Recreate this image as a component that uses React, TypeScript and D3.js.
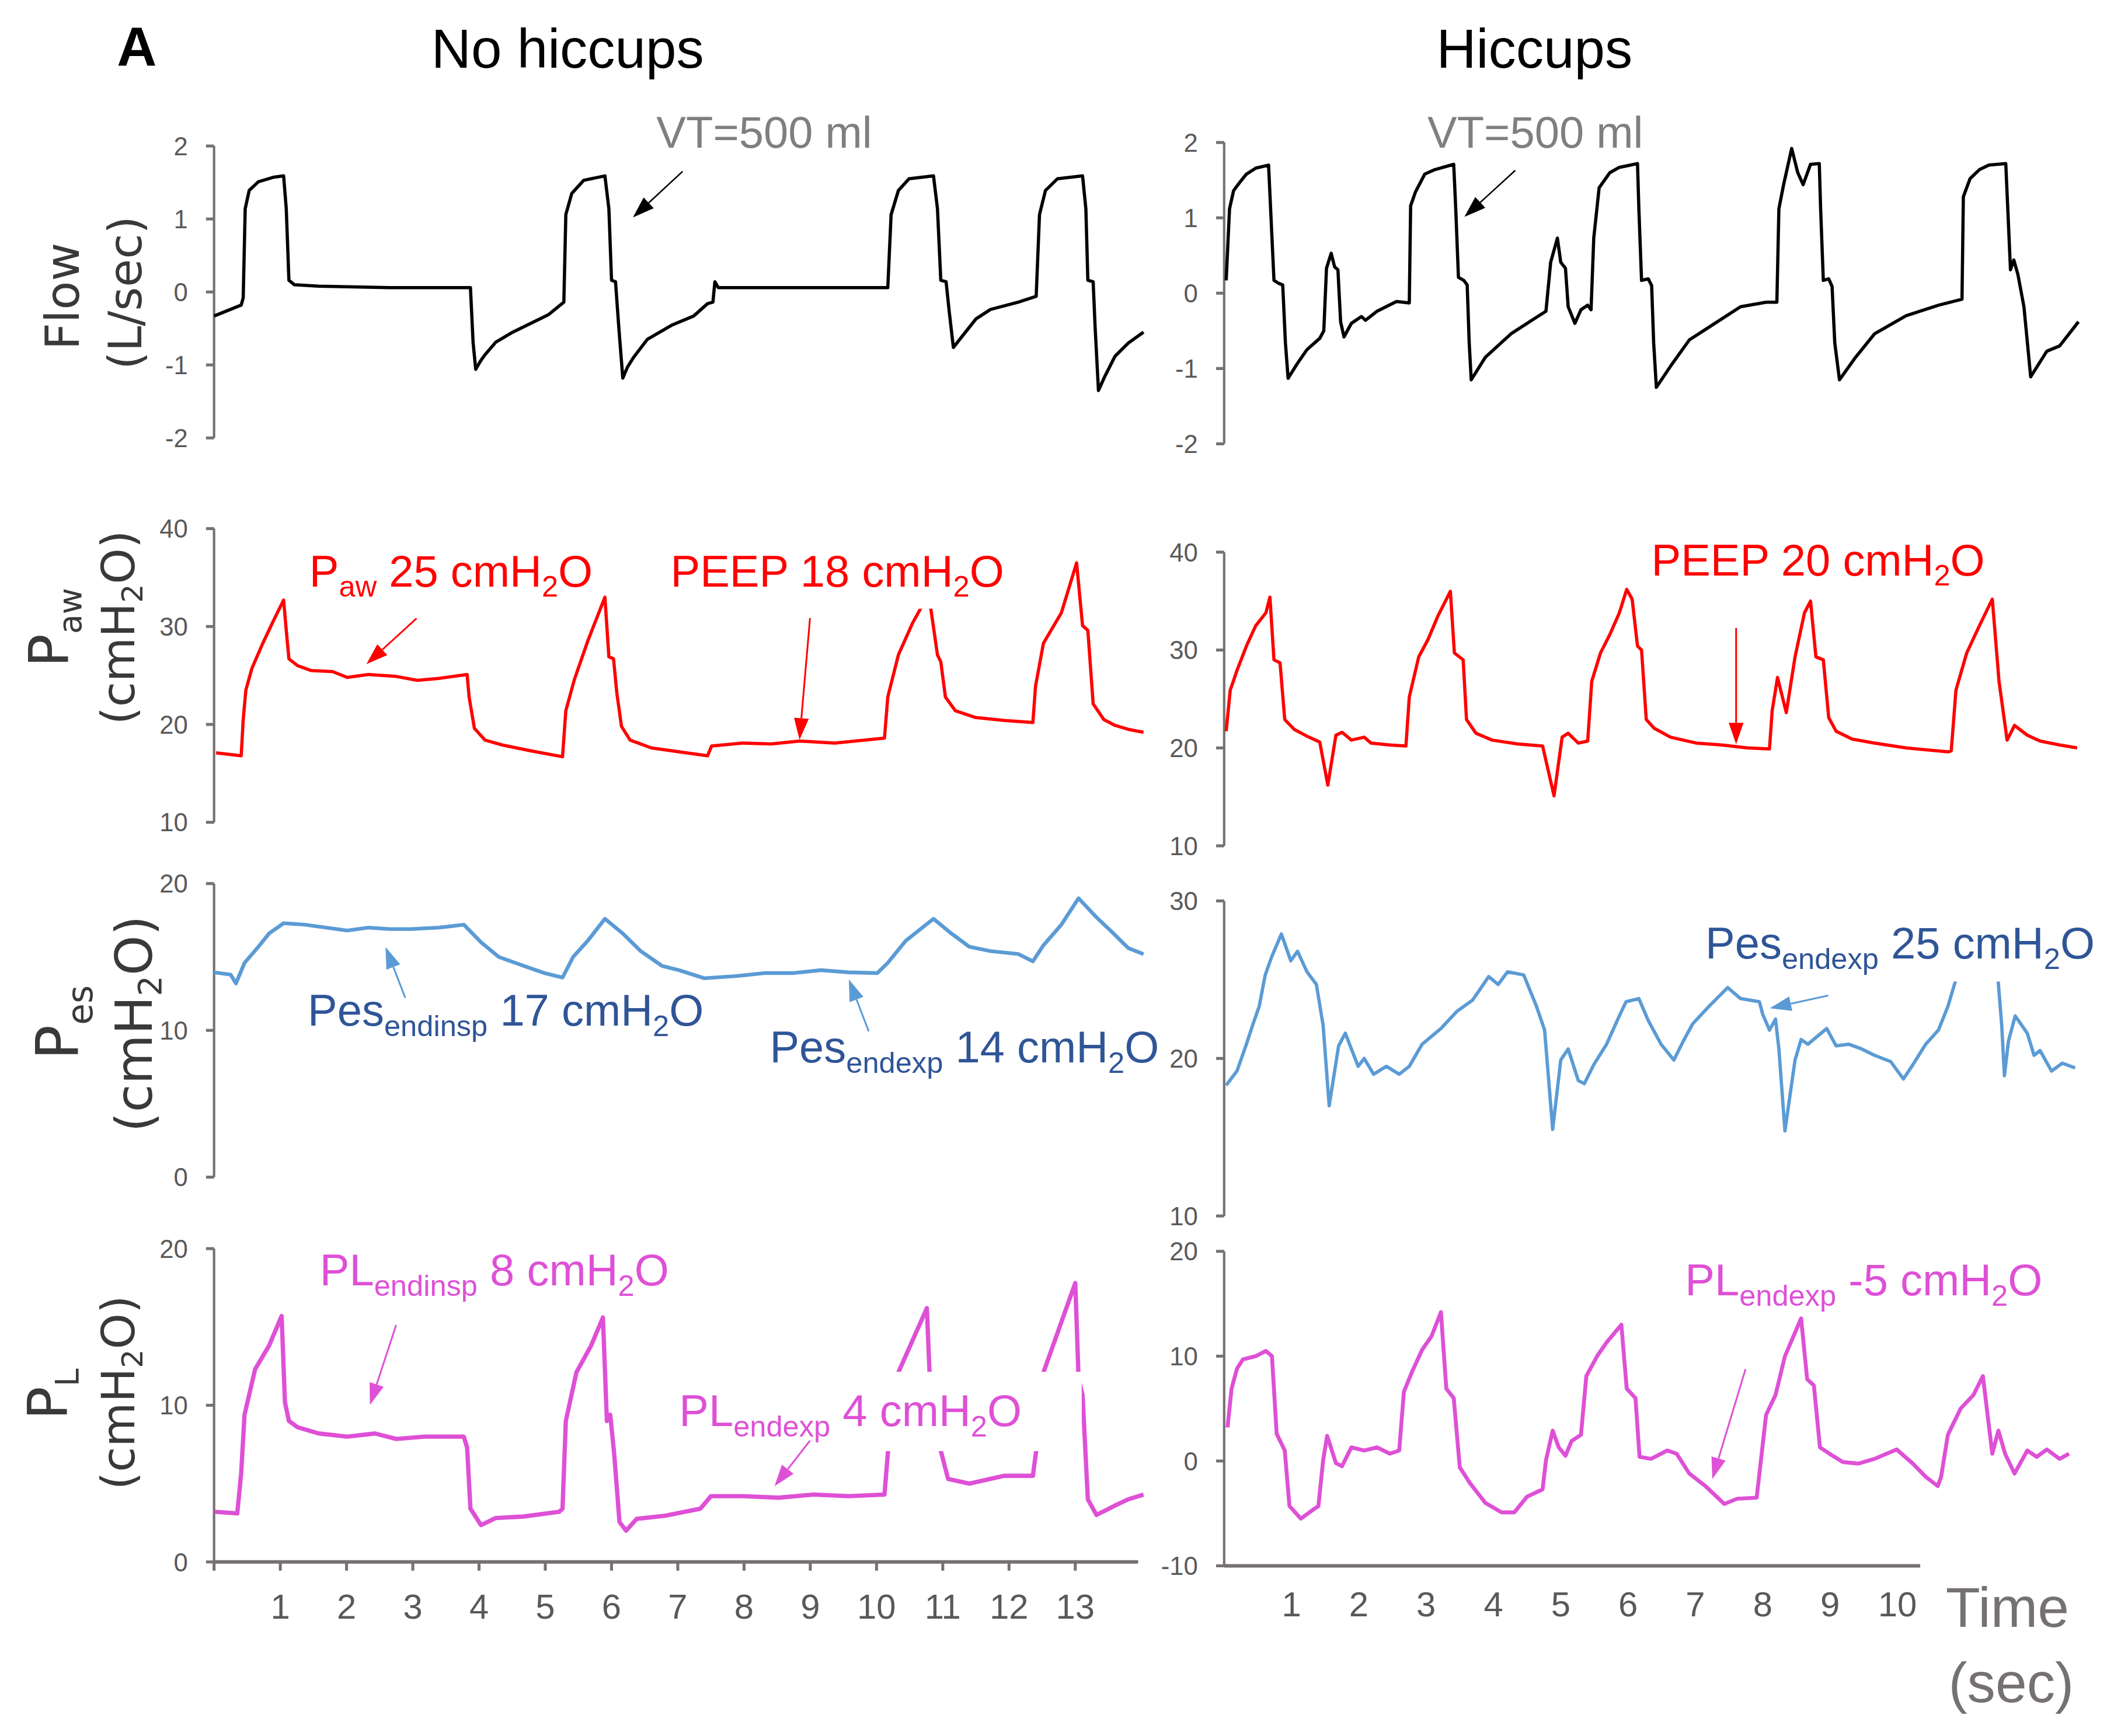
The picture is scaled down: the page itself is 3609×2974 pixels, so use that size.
import React from "react";
import * as d3 from "d3";

type Pt = [number, number];
type Part = [string, boolean];

// time (s), value
const flowNoHiccups: Pt[] = [
  [0, -0.33], [0.41, -0.18], [0.44, -0.08], [0.47, 1.14], [0.53, 1.39], [0.67, 1.51], [0.89, 1.57], [1.05, 1.59],
  [1.09, 1.14], [1.13, 0.16], [1.21, 0.1], [1.58, 0.08], [2.65, 0.06], [3.82, 0.06], [3.87, 0.06], [3.91, -0.69],
  [3.95, -1.06], [4.02, -0.95], [4.09, -0.86], [4.25, -0.69], [4.51, -0.55], [4.78, -0.43], [5.05, -0.31], [5.28, -0.14],
  [5.31, 1.06], [5.4, 1.35], [5.58, 1.53], [5.9, 1.59], [5.96, 1.14], [6.0, 0.16], [6.06, 0.14], [6.11, -0.49],
  [6.17, -1.18], [6.24, -1.03], [6.33, -0.9], [6.54, -0.65], [6.92, -0.45], [7.24, -0.33], [7.45, -0.16], [7.53, -0.14],
  [7.56, 0.14], [7.61, 0.06], [8.52, 0.06], [10.17, 0.06], [10.22, 1.06], [10.33, 1.39], [10.49, 1.55],
  [10.86, 1.59], [10.92, 1.14], [10.97, 0.16], [11.05, 0.14], [11.1, -0.29], [11.16, -0.76], [11.29, -0.61],
  [11.5, -0.37], [11.72, -0.24], [12.14, -0.14], [12.41, -0.06], [12.46, 1.06], [12.55, 1.39], [12.73, 1.55],
  [13.11, 1.59], [13.16, 1.14], [13.19, 0.16], [13.27, 0.14], [13.3, -0.49], [13.35, -1.35], [13.45, -1.15],
  [13.6, -0.88], [13.8, -0.7], [14.03, -0.55],
];

const flowHiccups: Pt[] = [
  [0.03, 0.17], [0.08, 1.12], [0.14, 1.36], [0.24, 1.48], [0.33, 1.58], [0.47, 1.66], [0.66, 1.7], [0.69, 1.12],
  [0.74, 0.17], [0.81, 0.13], [0.87, 0.11], [0.91, -0.66], [0.95, -1.13], [1.09, -0.93], [1.23, -0.75],
  [1.42, -0.6], [1.48, -0.5], [1.52, 0.33], [1.59, 0.53], [1.64, 0.35], [1.69, 0.31], [1.73, -0.38],
  [1.78, -0.58], [1.89, -0.4], [2.04, -0.31], [2.1, -0.36], [2.27, -0.24], [2.56, -0.11], [2.75, -0.13],
  [2.77, 1.16], [2.84, 1.34], [2.98, 1.58], [3.13, 1.64], [3.41, 1.71], [3.44, 1.12], [3.48, 0.21], [3.56, 0.17],
  [3.61, 0.11], [3.64, -0.66], [3.67, -1.15], [3.88, -0.85], [4.26, -0.54], [4.64, -0.32], [4.78, -0.24],
  [4.85, 0.41], [4.95, 0.73], [5.0, 0.41], [5.07, 0.33], [5.11, -0.18], [5.21, -0.4], [5.3, -0.22], [5.4, -0.16],
  [5.45, -0.22], [5.49, 0.73], [5.57, 1.4], [5.73, 1.6], [5.87, 1.67], [6.14, 1.72], [6.16, 1.12], [6.2, 0.17],
  [6.3, 0.19], [6.35, 0.1], [6.38, -0.66], [6.42, -1.25], [6.63, -0.97], [6.91, -0.62], [7.29, -0.4],
  [7.67, -0.18], [8.05, -0.12], [8.21, -0.12], [8.24, 1.12], [8.31, 1.44], [8.43, 1.92], [8.52, 1.6],
  [8.6, 1.44], [8.71, 1.71], [8.84, 1.72], [8.86, 1.12], [8.9, 0.17], [8.98, 0.19], [9.03, 0.09], [9.07, -0.66],
  [9.14, -1.15], [9.38, -0.85], [9.66, -0.54], [10.13, -0.3], [10.61, -0.16], [10.96, -0.08], [10.98, 1.28],
  [11.08, 1.52], [11.22, 1.64], [11.36, 1.7], [11.61, 1.72], [11.64, 1.12], [11.68, 0.31], [11.73, 0.44],
  [11.79, 0.25], [11.88, -0.18], [11.98, -1.11], [12.22, -0.77], [12.41, -0.7], [12.69, -0.38],
];

const pawNoHiccups: Pt[] = [
  [0.03, 17.1], [0.41, 16.8], [0.44, 20.5], [0.48, 23.5], [0.57, 25.7], [0.73, 28.2], [0.89, 30.5], [1.05, 32.7],
  [1.09, 29.6], [1.13, 26.7], [1.26, 26.0], [1.47, 25.5], [1.79, 25.4], [2.01, 24.8], [2.33, 25.1], [2.75, 24.9],
  [3.07, 24.5], [3.39, 24.7], [3.82, 25.1], [3.85, 22.8], [3.93, 19.6], [4.09, 18.4], [4.35, 17.9], [4.78, 17.3],
  [5.26, 16.7], [5.31, 21.4], [5.44, 24.6], [5.64, 28.5], [5.9, 33.0], [5.96, 26.9], [6.03, 26.7], [6.08, 23.2],
  [6.15, 19.8], [6.28, 18.4], [6.6, 17.6], [7.02, 17.2], [7.45, 16.8], [7.51, 17.8], [7.98, 18.1], [8.41, 18.0],
  [8.84, 18.3], [9.37, 18.1], [10.12, 18.6], [10.17, 22.8], [10.33, 27.1], [10.54, 30.3], [10.76, 33.0],
  [10.82, 31.8], [10.92, 27.1], [10.97, 26.4], [11.04, 22.8], [11.19, 21.4], [11.5, 20.7], [11.93, 20.4],
  [12.36, 20.2], [12.4, 23.9], [12.52, 28.3], [12.79, 31.4], [13.02, 36.5], [13.11, 30.1], [13.19, 29.6],
  [13.27, 22.1], [13.43, 20.5], [13.6, 19.9], [13.8, 19.5], [14.03, 19.2],
];

const pawHiccups: Pt[] = [
  [0.03, 21.7], [0.09, 25.9], [0.19, 27.9], [0.33, 30.4], [0.47, 32.5], [0.62, 33.8], [0.68, 35.4], [0.74, 29.0],
  [0.83, 28.7], [0.9, 22.9], [1.04, 21.9], [1.23, 21.2], [1.42, 20.6], [1.54, 16.2], [1.66, 21.3], [1.75, 21.6],
  [1.89, 20.8], [2.08, 21.1], [2.18, 20.5], [2.46, 20.3], [2.7, 20.2], [2.75, 25.2], [2.89, 29.3], [3.03, 31.1],
  [3.17, 33.4], [3.36, 36.0], [3.42, 29.7], [3.55, 29.0], [3.6, 22.9], [3.74, 21.5], [3.98, 20.8], [4.36, 20.4],
  [4.73, 20.2], [4.9, 15.1], [5.02, 21.1], [5.11, 21.5], [5.26, 20.5], [5.4, 20.7], [5.46, 26.8], [5.59, 29.7],
  [5.73, 31.6], [5.87, 33.8], [5.98, 36.2], [6.06, 35.2], [6.14, 30.4], [6.2, 30.0], [6.27, 22.9], [6.39, 22.0],
  [6.63, 21.1], [7.01, 20.5], [7.39, 20.3], [7.77, 20.0], [8.1, 19.9], [8.14, 23.8], [8.22, 27.2], [8.35, 23.6],
  [8.48, 29.3], [8.62, 33.8], [8.71, 35.0], [8.79, 29.3], [8.9, 29.0], [8.98, 23.1], [9.09, 21.7], [9.33, 20.9],
  [9.66, 20.5], [10.13, 20.0], [10.75, 19.6], [10.8, 19.7], [10.87, 25.9], [11.03, 29.7], [11.22, 32.5],
  [11.41, 35.2], [11.51, 26.8], [11.63, 20.8], [11.74, 22.3], [11.93, 21.3], [12.12, 20.7], [12.41, 20.3],
  [12.67, 20.0],
];

const pesNoHiccups: Pt[] = [
  [0, 13.95], [0.25, 13.8], [0.33, 13.2], [0.46, 14.6], [0.67, 15.7], [0.83, 16.6], [1.05, 17.3], [1.37, 17.2],
  [1.69, 17.0], [2.01, 16.8], [2.33, 17.0], [2.65, 16.9], [2.97, 16.9], [3.39, 17.0], [3.77, 17.2], [4.03, 16.0],
  [4.3, 15.0], [4.67, 14.4], [4.99, 13.9], [5.26, 13.6], [5.42, 15.0], [5.64, 16.1], [5.9, 17.6], [6.17, 16.6],
  [6.44, 15.4], [6.76, 14.4], [7.02, 14.1], [7.4, 13.55], [7.88, 13.7], [8.3, 13.9], [8.73, 13.9], [9.16, 14.1],
  [9.58, 13.95], [10.01, 13.9], [10.17, 14.6], [10.44, 16.1], [10.86, 17.6], [11.13, 16.6], [11.4, 15.7],
  [11.72, 15.4], [12.14, 15.2], [12.36, 14.7], [12.52, 15.8], [12.79, 17.2], [13.05, 19.0], [13.32, 17.7],
  [13.6, 16.5], [13.8, 15.6], [14.03, 15.2],
];

const pesHiccups: Pt[] = [
  [0.03, 18.3], [0.19, 19.2], [0.33, 20.9], [0.43, 22.2], [0.52, 23.3], [0.61, 25.3], [0.71, 26.5], [0.85, 27.9],
  [0.99, 26.2], [1.09, 26.8], [1.23, 25.5], [1.37, 24.7], [1.47, 22.1], [1.56, 17.0], [1.7, 20.8], [1.8, 21.6],
  [1.89, 20.6], [1.99, 19.5], [2.08, 20.0], [2.22, 19.0], [2.41, 19.5], [2.6, 19.0], [2.75, 19.5], [2.94, 20.9],
  [3.22, 21.9], [3.46, 23.0], [3.69, 23.7], [3.93, 25.2], [4.07, 24.7], [4.21, 25.5], [4.45, 25.3], [4.64, 23.3],
  [4.76, 21.8], [4.88, 15.5], [5.0, 19.9], [5.11, 20.6], [5.26, 18.6], [5.35, 18.4], [5.49, 19.6], [5.68, 20.9],
  [5.87, 22.7], [5.97, 23.6], [6.16, 23.8], [6.3, 22.4], [6.49, 20.9], [6.68, 19.9], [6.82, 21.1], [6.96, 22.2],
  [7.2, 23.3], [7.48, 24.5], [7.67, 23.8], [7.95, 23.6], [8.0, 22.8], [8.1, 21.8], [8.19, 22.5], [8.24, 20.6],
  [8.33, 15.4], [8.48, 19.9], [8.57, 21.2], [8.67, 20.9], [8.81, 21.4], [8.95, 21.9], [9.09, 20.8], [9.28, 20.9],
  [9.47, 20.6], [9.66, 20.2], [9.9, 19.8], [10.09, 18.7], [10.23, 19.6], [10.42, 20.9], [10.61, 21.8],
  [10.75, 23.3], [10.89, 25.3], [11.17, 27.9], [11.49, 25.3], [11.55, 22.1], [11.59, 18.9], [11.65, 21.1],
  [11.75, 22.7], [11.93, 21.6], [12.03, 20.2], [12.12, 20.5], [12.29, 19.2], [12.45, 19.7], [12.64, 19.4],
];

const plNoHiccups: Pt[] = [
  [0.01, 3.2], [0.35, 3.1], [0.41, 5.7], [0.46, 9.4], [0.62, 12.3], [0.83, 13.8], [1.02, 15.7], [1.07, 10.2],
  [1.13, 9.0], [1.26, 8.6], [1.58, 8.2], [2.01, 8.0], [2.43, 8.2], [2.75, 7.85], [3.18, 8.0], [3.77, 8.0],
  [3.82, 7.3], [3.87, 3.4], [4.03, 2.35], [4.25, 2.8], [4.67, 2.9], [5.21, 3.2], [5.26, 3.4], [5.31, 9.0],
  [5.47, 12.1], [5.69, 13.8], [5.87, 15.6], [5.93, 9.0], [5.98, 9.4], [6.04, 6.9], [6.12, 2.55], [6.22, 2.0],
  [6.38, 2.75], [6.81, 2.95], [7.34, 3.4], [7.5, 4.2], [7.98, 4.2], [8.52, 4.1], [9.05, 4.3], [9.58, 4.2],
  [10.12, 4.3], [10.17, 6.9], [10.33, 12.1], [10.76, 16.2], [10.81, 11.1], [10.97, 7.1], [11.08, 5.3],
  [11.40, 5.0], [11.93, 5.5], [12.36, 5.5], [12.41, 7.1], [12.52, 12.1], [13.0, 17.8], [13.05, 11.7],
  [13.11, 10.65], [13.19, 4.0], [13.32, 3.0], [13.6, 3.6], [13.8, 4.0], [14.03, 4.3],
];

const plHiccups: Pt[] = [
  [0.05, 3.2], [0.11, 6.9], [0.19, 8.8], [0.28, 9.7], [0.47, 10.0], [0.62, 10.5], [0.71, 10.0], [0.78, 2.6],
  [0.9, 1.0], [0.97, -4.3], [1.14, -5.5], [1.33, -4.6], [1.4, -4.3], [1.47, 0.06], [1.53, 2.4], [1.66, -0.2],
  [1.75, -0.5], [1.89, 1.3], [2.08, 1.0], [2.27, 1.3], [2.46, 0.7], [2.6, 1.0], [2.67, 6.6], [2.79, 8.5],
  [2.94, 10.6], [3.08, 11.9], [3.22, 14.2], [3.3, 6.9], [3.41, 6.0], [3.5, -0.6], [3.65, -2.1], [3.88, -4.0],
  [4.12, -4.9], [4.31, -4.9], [4.5, -3.4], [4.73, -2.7], [4.78, 0.06], [4.88, 2.9], [4.97, 1.3], [5.07, 0.5],
  [5.16, 1.9], [5.3, 2.5], [5.38, 8.1], [5.54, 10.0], [5.68, 11.3], [5.9, 13.0], [5.98, 6.9], [6.11, 6.0],
  [6.17, 0.4], [6.34, 0.2], [6.58, 1.0], [6.72, 0.7], [6.91, -1.2], [7.15, -2.4], [7.43, -4.1], [7.62, -3.6],
  [7.91, -3.5], [8.05, 4.4], [8.19, 6.3], [8.33, 10.0], [8.57, 13.6], [8.66, 7.8], [8.76, 7.2], [8.85, 1.3],
  [8.99, 0.7], [9.19, -0.1], [9.42, -0.25], [9.66, 0.2], [9.99, 1.1], [10.23, -0.25], [10.42, -1.5],
  [10.6, -2.4], [10.65, -1.5], [10.75, 2.5], [10.94, 5.0], [11.13, 6.3], [11.27, 8.1], [11.34, 4.4],
  [11.41, 0.7], [11.5, 2.9], [11.6, 0.7], [11.74, -1.2], [11.93, 1.0], [12.07, 0.4], [12.22, 1.1], [12.41, 0.2],
  [12.55, 0.7],
];

const xTicksLeft = [0, 1, 2, 3, 4, 5, 6, 7, 8, 9, 10, 11, 12, 13];
const xLabelsLeft = [1, 2, 3, 4, 5, 6, 7, 8, 9, 10, 11, 12, 13];
const xLabelsRight = [1, 2, 3, 4, 5, 6, 7, 8, 9, 10];
const flowTicks = [-2, -1, 0, 1, 2];
const pawTicks = [10, 20, 30, 40];
const pesTicksLeft = [0, 10, 20];
const pesTicksRight = [10, 20, 30];
const plTicksLeft = [0, 10, 20];
const plTicksRight = [-10, 0, 10, 20];

const AXIS = "#767171";
const TICK_TXT = "#595959";
const SANS = "'Liberation Sans', Arial, sans-serif";
const WIDE = "'DejaVu Sans', Verdana, sans-serif";
const RED = "#ff0000";
const BLUE = "#5b9bd5";
const NAVY = "#2f5597";
const MAG = "#de50d6";

const xL = d3.scaleLinear().domain([0, 14]).range([159.3, 849.5]);
const xR = d3.scaleLinear().domain([0, 10]).range([911, 1412]);

const yFlowL = d3.scaleLinear().domain([-2, 2]).range([325.9, 108.6]);
const yFlowR = d3.scaleLinear().domain([-2, 2]).range([330.3, 106]);
const yPawL = d3.scaleLinear().domain([10, 40]).range([612, 393.4]);
const yPawR = d3.scaleLinear().domain([10, 40]).range([629.5, 410.9]);
const yPesL = d3.scaleLinear().domain([0, 20]).range([876.1, 657.6]);
const yPesR = d3.scaleLinear().domain([10, 30]).range([905, 670.5]);
const yPlL = d3.scaleLinear().domain([0, 20]).range([1162.5, 929.3]);
const yPlR = d3.scaleLinear().domain([-10, 20]).range([1165.4, 931.3]);

function Trace({ data, x, y, color, width }: any) {
  const line = d3.line<Pt>().x(d => x(d[0])).y(d => y(d[1]));
  return <path d={line(data) || ""} fill="none" stroke={color} strokeWidth={width} strokeLinejoin="round" />;
}

function YAxis({ x, y, ticks }: any) {
  const [d0, d1] = y.domain();
  return (
    <g>
      <line x1={x} x2={x} y1={y(d1)} y2={y(d0)} stroke={AXIS} strokeWidth={1.8} />
      {ticks.map((t: number) => (
        <g key={t}>
          <line x1={x - 6} x2={x} y1={y(t)} y2={y(t)} stroke={AXIS} strokeWidth={2.2} />
          <text x={x - 19.5} y={y(t)} dy="0.36em" textAnchor="end" fontSize={19} fill={TICK_TXT} fontFamily={SANS}>
            {t}
          </text>
        </g>
      ))}
    </g>
  );
}

function Rich({ x, y, size, subSize, shift, parts, fill, anchor = "start", family = SANS }: any) {
  let cur = 0;
  return (
    <text x={x} y={y} fontSize={size} fill={fill} fontFamily={family} textAnchor={anchor} style={{ whiteSpace: "pre" }}>
      {parts.map(([t, sub]: Part, i: number) => {
        const target = sub ? shift : 0;
        const dy = target - cur;
        cur = target;
        return (
          <tspan key={i} dy={dy} fontSize={sub ? subSize : size}>
            {t}
          </tspan>
        );
      })}
    </text>
  );
}

function VTitle({ x, cy, size, subSize, shift, parts }: any) {
  return (
    <g transform={`translate(${x},${cy}) rotate(-90)`}>
      <Rich x={0} y={0} size={size} subSize={subSize} shift={shift} parts={parts} fill="#3b3838" anchor="middle" family={WIDE} />
    </g>
  );
}

function Arrow({ x1, y1, x2, y2, color, w = 1.3, head = 16, hw = 5.5 }: any) {
  const dx = x2 - x1;
  const dy = y2 - y1;
  const len = Math.hypot(dx, dy);
  const ux = dx / len;
  const uy = dy / len;
  const bx = x2 - ux * head;
  const by = y2 - uy * head;
  const px = -uy;
  const py = ux;
  return (
    <g>
      <line x1={x1} y1={y1} x2={bx} y2={by} stroke={color} strokeWidth={w} />
      <polygon points={`${x2},${y2} ${bx + px * hw},${by + py * hw} ${bx - px * hw},${by - py * hw}`} fill={color} />
    </g>
  );
}

const cmH2O = (pre: string): Part[] => [[pre + " cmH", false], ["2", true], ["O", false]];

export default function App() {
  return (
    <svg
      width={3609}
      height={2974}
      viewBox="0 0 1568 1292"
      style={{ position: "absolute", left: 0, top: 0, background: "#fff" }}
    >
      <rect x={0} y={0} width={1568} height={1292} fill="#fff" />

      {/* titles */}
      <text x={87} y={49.2} fontSize={41} fontWeight="bold" fontFamily={SANS} fill="#000">A</text>
      <text x={321} y={50.5} fontSize={41} fontFamily={SANS} fill="#000">No hiccups</text>
      <text x={1069} y={50.5} fontSize={41} fontFamily={SANS} fill="#000">Hiccups</text>

      {/* y titles */}
      <VTitle x={58.7} cy={220.5} size={35} parts={[["Flow", false]]} />
      <VTitle x={105} cy={217.8} size={34} parts={[["(L/sec)", false]]} />
      <VTitle x={51} cy={467} size={41} subSize={24} shift={9.5} parts={[["P", false], ["aw", true]]} />
      <VTitle x={100} cy={467} size={34} subSize={22} shift={6} parts={[["(cmH", false], ["2", true], ["O)", false]]} />
      <VTitle x={58} cy={761} size={43} subSize={26} shift={10.5} parts={[["P", false], ["es", true]]} />
      <VTitle x={113} cy={762} size={38} subSize={24} shift={7} parts={[["(cmH", false], ["2", true], ["O)", false]]} />
      <VTitle x={50} cy={1037.6} size={41} subSize={24} shift={8} parts={[["P", false], ["L", true]]} />
      <VTitle x={100} cy={1036.5} size={34} subSize={22} shift={6} parts={[["(cmH", false], ["2", true], ["O)", false]]} />

      {/* axes */}
      <YAxis x={xL(0)} y={yFlowL} ticks={flowTicks} />
      <YAxis x={xR(0)} y={yFlowR} ticks={flowTicks} />
      <YAxis x={xL(0)} y={yPawL} ticks={pawTicks} />
      <YAxis x={xR(0)} y={yPawR} ticks={pawTicks} />
      <YAxis x={xL(0)} y={yPesL} ticks={pesTicksLeft} />
      <YAxis x={xR(0)} y={yPesR} ticks={pesTicksRight} />
      <YAxis x={xL(0)} y={yPlL} ticks={plTicksLeft} />
      <YAxis x={xR(0)} y={yPlR} ticks={plTicksRight} />

      <line x1={xL(0)} x2={847} y1={yPlL(0)} y2={yPlL(0)} stroke={AXIS} strokeWidth={2.6} />
      {xTicksLeft.map(t => (
        <line key={t} x1={xL(t)} x2={xL(t)} y1={yPlL(0)} y2={yPlL(0) + 6.5} stroke={AXIS} strokeWidth={2.2} />
      ))}
      {xLabelsLeft.map(t => (
        <text key={t} x={xL(t)} y={1204.6} textAnchor="middle" fontSize={26} fill={TICK_TXT} fontFamily={SANS}>{t}</text>
      ))}
      <line x1={xR(0)} x2={1429} y1={yPlR(-10)} y2={yPlR(-10)} stroke={AXIS} strokeWidth={2.6} />
      {xLabelsRight.map(t => (
        <text key={t} x={xR(t)} y={1203} textAnchor="middle" fontSize={26} fill={TICK_TXT} fontFamily={SANS}>{t}</text>
      ))}
      <text x={1448} y={1211} fontSize={42} fill={AXIS} fontFamily={SANS}>Time</text>
      <text x={1450} y={1267} fontSize={42} fill={AXIS} fontFamily={SANS}>(sec)</text>

      {/* traces */}
      <Trace data={flowNoHiccups} x={xL} y={yFlowL} color="#000" width={2.4} />
      <Trace data={flowHiccups} x={xR} y={yFlowR} color="#000" width={2.4} />
      <Trace data={pawNoHiccups} x={xL} y={yPawL} color={RED} width={2.4} />
      <Trace data={pawHiccups} x={xR} y={yPawR} color={RED} width={2.4} />
      <Trace data={pesNoHiccups} x={xL} y={yPesL} color={BLUE} width={2.8} />
      <Trace data={pesHiccups} x={xR} y={yPesR} color={BLUE} width={2.5} />
      <Trace data={plNoHiccups} x={xL} y={yPlL} color={MAG} width={3.2} />
      <Trace data={plHiccups} x={xR} y={yPlR} color={MAG} width={2.9} />

      {/* annotations: flow */}
      <text x={488.5} y={109.7} fontSize={33} fill="#7f7f7f" fontFamily={SANS}>VT=500 ml</text>
      <Arrow x1={508} y1={127.5} x2={471} y2={161.8} color="#000" w={1.1} />
      <text x={1062.3} y={109.7} fontSize={33} fill="#7f7f7f" fontFamily={SANS}>VT=500 ml</text>
      <Arrow x1={1127.6} y1={126.8} x2={1089.8} y2={161.4} color="#000" w={1.1} />

      {/* Paw */}
      <Rich x={230.2} y={436.6} size={33} subSize={22} shift={7.3} fill={RED}
        parts={[["P", false], ["aw", true], ...cmH2O(" 25")]} />
      <Arrow x1={310} y1={460.2} x2={272.7} y2={494.3} color={RED} />
      <rect x={490} y={405} width={265} height={48} fill="#fff" />
      <Rich x={499} y={436.6} size={33} subSize={22} shift={7.3} fill={RED} parts={cmH2O("PEEP 18")} />
      <Arrow x1={602.8} y1={460} x2={595} y2={550.5} color={RED} />
      <Rich x={1228.9} y={428.3} size={33} subSize={22} shift={7.3} fill={RED} parts={cmH2O("PEEP 20")} />
      <Arrow x1={1292} y1={467.4} x2={1292} y2={553.9} color={RED} />

      {/* Pes */}
      <Rich x={229} y={763.3} size={33} subSize={22} shift={7.7} fill={NAVY}
        parts={[["Pes", false], ["endinsp", true], ...cmH2O(" 17")]} />
      <Arrow x1={301.6} y1={742.6} x2={286.9} y2={704.8} color={BLUE} />
      <Rich x={572.8} y={790.7} size={33} subSize={22} shift={7.7} fill={NAVY}
        parts={[["Pes", false], ["endexp", true], ...cmH2O(" 14")]} />
      <Arrow x1={646.5} y1={767.6} x2={631.7} y2={728.9} color={BLUE} />
      <rect x={1262} y={683} width={302} height={47.5} fill="#fff" />
      <Rich x={1269.1} y={713.4} size={33} subSize={22} shift={7.7} fill={NAVY}
        parts={[["Pes", false], ["endexp", true], ...cmH2O(" 25")]} />
      <Arrow x1={1360.6} y1={740.9} x2={1317} y2={750.4} color={BLUE} />

      {/* PL */}
      <Rich x={238} y={956.7} size={33} subSize={22} shift={7.7} fill={MAG}
        parts={[["PL", false], ["endinsp", true], ...cmH2O(" 8")]} />
      <Arrow x1={294.8} y1={986.2} x2={275.3} y2={1045.6} color={MAG} />
      <rect x={500} y={1021} width={305} height={59} fill="#fff" />
      <Rich x={505.4} y={1061.3} size={33} subSize={22} shift={7.7} fill={MAG}
        parts={[["PL", false], ["endexp", true], ...cmH2O(" 4")]} />
      <Arrow x1={602.8} y1={1072.2} x2={576.4} y2={1106.1} color={MAG} />
      <Rich x={1254} y={964} size={33} subSize={22} shift={7.7} fill={MAG}
        parts={[["PL", false], ["endexp", true], ...cmH2O(" -5")]} />
      <Arrow x1={1299} y1={1019} x2={1274.3} y2={1100.8} color={MAG} />
    </svg>
  );
}
